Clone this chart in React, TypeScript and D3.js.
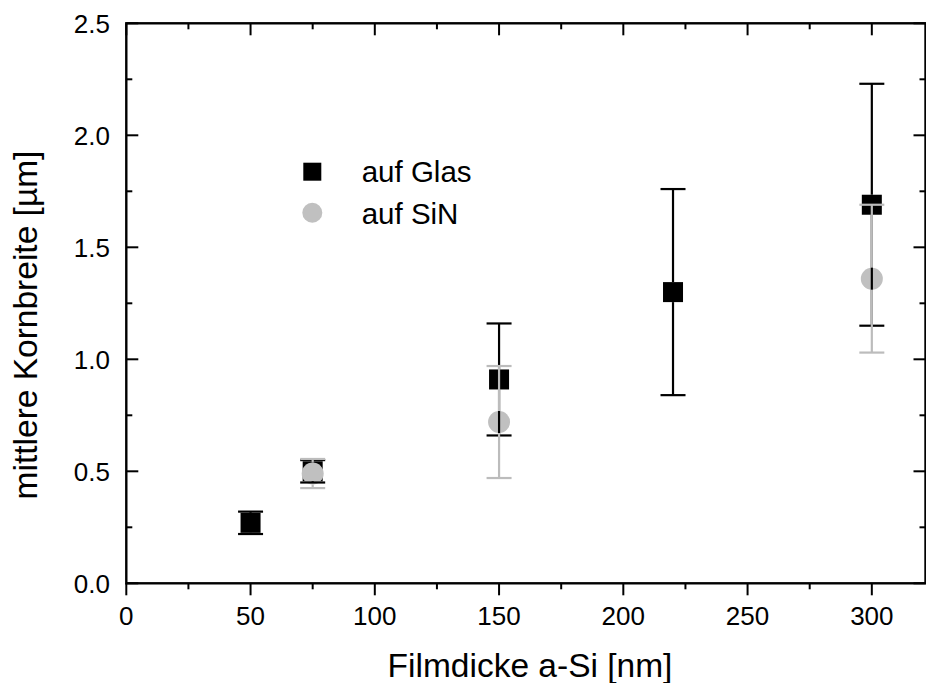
import React from "react";
import * as d3 from "d3";

const thicknessGlas = [50, 75, 150, 220, 300];
const meanGlas = [0.27, 0.5, 0.91, 1.3, 1.69];
const errGlas = [0.05, 0.05, 0.25, 0.46, 0.54];

const thicknessSiN = [75, 150, 300];
const meanSiN = [0.49, 0.72, 1.36];
const errSiN = [0.065, 0.25, 0.33];

const xMajorTicks = [0, 50, 100, 150, 200, 250, 300];
const yMajorTicks = [0, 0.5, 1.0, 1.5, 2.0, 2.5];

const W = 926;
const H = 683;
const FONT = "'Liberation Sans', Arial, sans-serif";

export default function App() {
  const left = 126.3, right = 925.5, top = 23.3, bottom = 583.3;
  const x = d3.scaleLinear().domain([0, 321.6]).range([left, right]);
  const y = d3.scaleLinear().domain([0, 2.5]).range([bottom, top]);

  const xMinor = d3.range(25, 321, 50);
  const yMinor = d3.range(0.25, 2.5, 0.5);

  const black = "#000";
  const grayFill = "#c0c0c0";
  const grayLine = "#bcbcbc";
  const sq = 10; // half size
  const cr = 11;
  const cap = 12.5;

  const glas = thicknessGlas.map((t, i) => ({ t, m: meanGlas[i], e: errGlas[i] }));
  const sin = thicknessSiN.map((t, i) => ({ t, m: meanSiN[i], e: errSiN[i] }));

  const errBar = (d: { t: number; m: number; e: number }, half: number, color: string, key: string) => {
    const cx = x(d.t);
    const cy = y(d.m);
    const yt = y(d.m + d.e);
    const yb = y(d.m - d.e);
    return (
      <g key={key} stroke={color} strokeWidth={2.2} fill="none">
        <line x1={cx} x2={cx} y1={cy - half} y2={yt} />
        <line x1={cx} x2={cx} y1={cy + half} y2={yb} />
        <line x1={cx - cap} x2={cx + cap} y1={yt} y2={yt} />
        <line x1={cx - cap} x2={cx + cap} y1={yb} y2={yb} />
      </g>
    );
  };

  return (
    <svg
      width={W}
      height={H}
      style={{ position: "absolute", left: 0, top: 0, background: "#fff" }}
      fontFamily={FONT}
    >
      <rect x={0} y={0} width={W} height={H} fill="#fff" />

      {/* markers */}
      {glas.map((d, i) => (
        <rect key={"s" + i} x={x(d.t) - sq} y={y(d.m) - sq} width={sq * 2} height={sq * 2} fill={black} />
      ))}
      {sin.map((d, i) => (
        <circle key={"c" + i} cx={x(d.t)} cy={y(d.m)} r={cr} fill={grayFill} />
      ))}
      {glas.map((d, i) => errBar(d, sq, black, "eb" + i))}
      {sin.map((d, i) => errBar(d, cr, grayLine, "eg" + i))}

      {/* frame */}
      <rect x={left} y={top} width={right - left} height={bottom - top} fill="none" stroke="#000" strokeWidth={2.4} />

      {/* bottom axis ticks (outward) */}
      {xMajorTicks.map((t) => (
        <line key={"bx" + t} x1={x(t)} x2={x(t)} y1={bottom} y2={bottom + 12} stroke="#000" strokeWidth={2} />
      ))}
      {xMinor.map((t) => (
        <line key={"bxm" + t} x1={x(t)} x2={x(t)} y1={bottom} y2={bottom + 6} stroke="#000" strokeWidth={2} />
      ))}
      {/* top axis ticks (inward) */}
      {xMajorTicks.map((t) => (
        <line key={"tx" + t} x1={x(t)} x2={x(t)} y1={top} y2={top + 12} stroke="#000" strokeWidth={2} />
      ))}
      {xMinor.map((t) => (
        <line key={"txm" + t} x1={x(t)} x2={x(t)} y1={top} y2={top + 6} stroke="#000" strokeWidth={2} />
      ))}
      {/* left/right ticks (inward) */}
      {yMajorTicks.map((t) => (
        <g key={"ly" + t}>
          <line x1={left} x2={left + 12} y1={y(t)} y2={y(t)} stroke="#000" strokeWidth={2} />
          <line x1={right} x2={right - 12} y1={y(t)} y2={y(t)} stroke="#000" strokeWidth={2} />
        </g>
      ))}
      {yMinor.map((t) => (
        <g key={"lym" + t}>
          <line x1={left} x2={left + 6} y1={y(t)} y2={y(t)} stroke="#000" strokeWidth={2} />
          <line x1={right} x2={right - 6} y1={y(t)} y2={y(t)} stroke="#000" strokeWidth={2} />
        </g>
      ))}

      {/* tick labels */}
      {xMajorTicks.map((t) => (
        <text key={"xl" + t} x={x(t)} y={625} textAnchor="middle" fontSize={26} fill="#000">
          {d3.format("d")(t)}
        </text>
      ))}
      {yMajorTicks.map((t) => (
        <text key={"yl" + t} x={110} y={y(t) + 9.3} textAnchor="end" fontSize={26} fill="#000">
          {d3.format(".1f")(t)}
        </text>
      ))}

      {/* axis titles */}
      <text x={530} y={677} textAnchor="middle" fontSize={33.5} fill="#000">
        Filmdicke a-Si [nm]
      </text>
      <text
        transform={`translate(37, ${325}) rotate(-90)`}
        textAnchor="middle"
        fontSize={33.5}
        fill="#000"
      >
        mittlere Kornbreite [µm]
      </text>

      {/* legend */}
      <rect x={312.3 - 9} y={171.7 - 9} width={18} height={18} fill={black} />
      <circle cx={312.3} cy={212.7} r={10} fill={grayFill} />
      <text x={361.7} y={182} fontSize={29.5} fill="#000">
        auf Glas
      </text>
      <text x={361.7} y={223.5} fontSize={29.5} fill="#000">
        auf SiN
      </text>
    </svg>
  );
}
